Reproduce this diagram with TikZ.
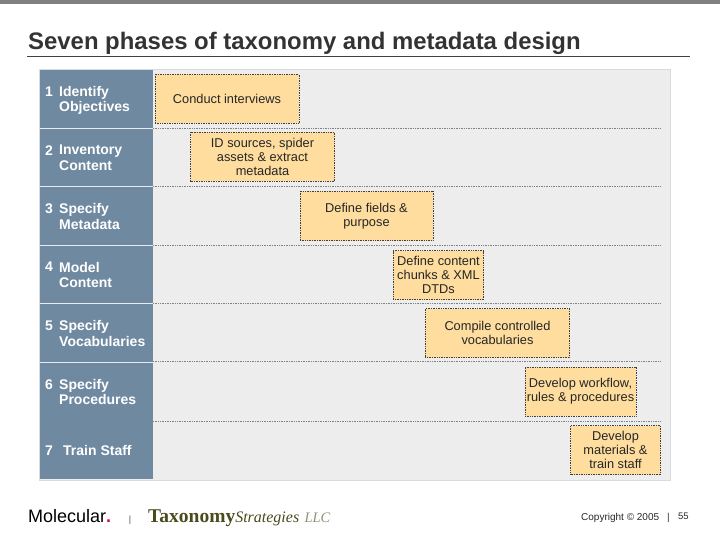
\documentclass[tikz,border=0pt]{standalone}
\usepackage{xcolor}
\usepackage{fontspec}
\setmainfont{Liberation Sans}
\newfontfamily\logoserif{Liberation Serif}
\definecolor{barGray}{HTML}{808080}
\definecolor{panelGray}{HTML}{EDEDED}
\definecolor{panelEdge}{HTML}{D8DCE0}
\definecolor{phaseBlue}{HTML}{6F89A1}
\definecolor{boxOrange}{HTML}{FEDD9E}
\definecolor{logoOlive}{HTML}{4A4A1C}
\definecolor{logoRed}{HTML}{D0103A}

\begin{document}
\begin{tikzpicture}[x=1pt,y=-1pt,
  phasenum/.style={anchor=west,inner sep=0pt,text=white,font=\fontsize{14}{15.5}\selectfont\bfseries},
  phasename/.style={anchor=west,inner sep=0pt,align=left,text=white,font=\fontsize{14}{15.5}\selectfont\bfseries},
  taskbox/.style={draw=black!75,dash pattern=on 0.8pt off 0.9pt,line width=0.55pt,fill=boxOrange,inner sep=0pt,align=center,
    text=black!85,minimum height=49pt,font=\fontsize{12.8}{14}\selectfont},
  rowline/.style={draw=black!50,dash pattern=on 0.8pt off 0.9pt,line width=0.55pt}]
  \useasboundingbox (0,0) rectangle (720,540);
  \fill[barGray] (0,0) rectangle (720,4.5);

  % title
  \node[anchor=base west,inner sep=0pt,text=black!80] (title) at (28,50) {\fontsize{23.9}{26}\selectfont\bfseries Seven phases of taxonomy and metadata design};
  \draw[black!75,line width=0.7pt] (27,56.3) -- (690,56.3);

  % panel and phase column
  \fill[panelEdge] (39,69) rectangle (671,481);
  \fill[panelGray] (40,70) rectangle (669.5,480);
  \fill[phaseBlue] (40,70) rectangle (153,479);
  \draw[white!85!phaseBlue,line width=0.8pt] (40,128) -- (153,128);
  \draw[white!85!phaseBlue,line width=0.8pt] (40,186.5) -- (153,186.5);
  \draw[white!85!phaseBlue,line width=0.8pt] (40,245) -- (153,245);
  \draw[white!85!phaseBlue,line width=0.8pt] (40,303.5) -- (153,303.5);
  \draw[white!85!phaseBlue,line width=0.8pt] (40,362) -- (153,362);

  \draw[rowline] (153,128) -- (660,128);
  \draw[rowline] (153,186.5) -- (660,186.5);
  \draw[rowline] (153,245) -- (660,245);
  \draw[rowline] (153,303.5) -- (660,303.5);
  \draw[rowline] (153,361.5) -- (660,361.5);
  \draw[rowline] (153,421) -- (660,421);

  % phases
  \node[phasenum] (num1) at (45,91.5) {1};
  \node[phasename] (name1) at (59,100.5) {Identify\\Objectives};
  \node[phasenum] (num2) at (45,150.5) {2};
  \node[phasename] (name2) at (59,158) {Inventory\\Content};
  \node[phasenum] (num3) at (45,208.5) {3};
  \node[phasename] (name3) at (59,216.5) {Specify\\Metadata};
  \node[phasenum] (num4) at (45,267) {4};
  \node[phasename] (name4) at (59,275) {Model\\Content};
  \node[phasenum] (num5) at (45,325.5) {5};
  \node[phasename] (name5) at (59,333.5) {Specify\\Vocabularies};
  \node[phasenum] (num6) at (45,384.5) {6};
  \node[phasename] (name6) at (59,392) {Specify\\Procedures};
  \node[phasenum] (num7) at (45,450.5) {7};
  \node[phasename] (name7) at (63,450) {Train Staff};

  % tasks
  \node[taskbox,minimum width=144pt] (task1) at (227,99) {Conduct interviews};
  \node[taskbox,minimum width=144pt] (task2) at (262.5,157) {ID sources, spider\\assets \& extract\\metadata};
  \node[taskbox,minimum width=133pt] (task3) at (366.5,216) {Define fields \&\\purpose};
  \node[taskbox,minimum width=90.5pt] (task4) at (438.5,275) {Define content\\chunks \& XML\\DTDs};
  \node[taskbox,minimum width=144.5pt] (task5) at (497.5,333) {Compile controlled\\vocabularies};
  \node[taskbox,minimum width=111pt] (task6) at (580.5,391.5) {Develop workflow,\\rules \& procedures};
  \node[taskbox,minimum width=90pt] (task7) at (615.5,450) {Develop\\materials \&\\train staff};

  % footer
  \node[anchor=base west,inner sep=0pt] (molecular) at (28,522) {\fontsize{18}{22}\selectfont Molecular\textcolor{logoRed}{\textbf{.}}};
  \node[anchor=base,inner sep=0pt,text=black!70] (sepA) at (130,522) {\fontsize{9}{10}\selectfont |};
  \node[anchor=base west,inner sep=0pt,text=logoOlive] (strategies) at (148,522) {\logoserif\fontsize{19.5}{20}\selectfont\textbf{Taxonomy}\fontsize{16}{18}\selectfont\textit{Strategies}\,\,\textcolor{logoOlive!60}{\fontsize{14.5}{14}\selectfont\textit{LLC}}};
  \node[anchor=base west,inner sep=0pt,text=black!85] (copyright) at (581,520) {\fontsize{10}{12}\selectfont Copyright © 2005};
  \node[anchor=base,inner sep=0pt,text=black!80] (sepB) at (668.5,520) {\fontsize{10}{12}\selectfont |};
  \node[anchor=base west,inner sep=0pt,text=black!85] (pagenum) at (678,519.5) {\fontsize{9.5}{12}\selectfont 55};
\end{tikzpicture}
\end{document}
